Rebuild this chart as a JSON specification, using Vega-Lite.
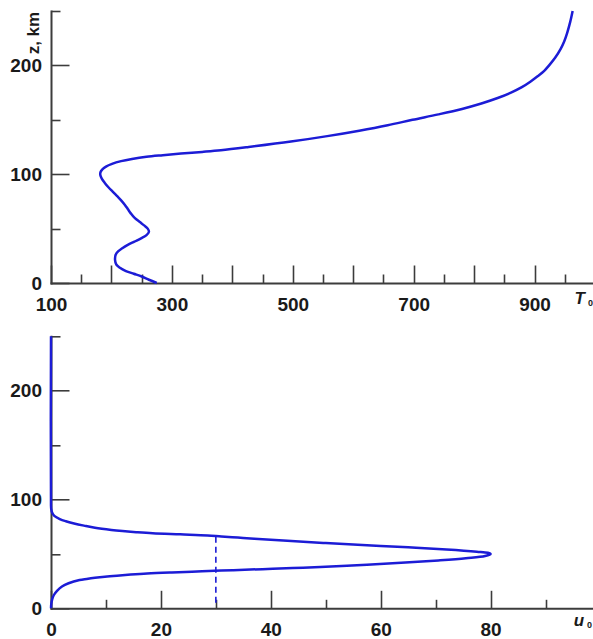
{
  "$schema": "https://vega.github.io/schema/vega-lite/v6.json",
  "padding": {"left": 9, "top": 6, "right": 0, "bottom": 0},
  "background": "white",
  "config": {
    "view": {"stroke": null},
    "font": "Liberation Sans",
    "axis": {
      "grid": false,
      "labelFont": "Liberation Sans",
      "labelFontWeight": "bold",
      "labelFontSize": 19,
      "labelColor": "#1a1a1a",
      "titleFont": "Liberation Sans",
      "titleFontWeight": "bold",
      "titleColor": "#1a1a1a",
      "domainColor": "#3c3c3c",
      "domainWidth": 2,
      "domainCap": "square",
      "tickColor": "#3c3c3c",
      "tickWidth": 1.6,
      "labelFlush": false,
      "labelOverlap": false
    }
  },
  "datasets": {
    "temp": [
      {"z": 0, "T": 275}, {"z": 3, "T": 262}, {"z": 6, "T": 250}, {"z": 8.5, "T": 237},
      {"z": 11, "T": 224}, {"z": 14, "T": 214}, {"z": 17, "T": 208}, {"z": 21, "T": 206},
      {"z": 26, "T": 207}, {"z": 29, "T": 211}, {"z": 32, "T": 218}, {"z": 35, "T": 227},
      {"z": 38, "T": 238}, {"z": 41, "T": 249}, {"z": 44, "T": 258}, {"z": 47, "T": 262},
      {"z": 50, "T": 260}, {"z": 53, "T": 254}, {"z": 56, "T": 247}, {"z": 60, "T": 238},
      {"z": 64, "T": 232}, {"z": 68, "T": 227}, {"z": 72, "T": 222}, {"z": 76, "T": 216},
      {"z": 80, "T": 209}, {"z": 84, "T": 202}, {"z": 88, "T": 195}, {"z": 92, "T": 189},
      {"z": 96, "T": 184}, {"z": 99.5, "T": 181.5}, {"z": 102, "T": 182}, {"z": 104.5, "T": 185},
      {"z": 107, "T": 191}, {"z": 109.5, "T": 201}, {"z": 112, "T": 216}, {"z": 114, "T": 234},
      {"z": 116, "T": 258}, {"z": 117.5, "T": 285}, {"z": 119, "T": 315}, {"z": 120.5, "T": 350},
      {"z": 122, "T": 381}, {"z": 125, "T": 427}, {"z": 130, "T": 497}, {"z": 135, "T": 557},
      {"z": 140, "T": 610}, {"z": 145, "T": 657}, {"z": 150, "T": 698}, {"z": 155, "T": 741},
      {"z": 160, "T": 780}, {"z": 165, "T": 812}, {"z": 170, "T": 839}, {"z": 175, "T": 861},
      {"z": 180, "T": 879}, {"z": 185, "T": 893}, {"z": 190, "T": 905}, {"z": 195, "T": 916},
      {"z": 200, "T": 924}, {"z": 207, "T": 934}, {"z": 215, "T": 943}, {"z": 222, "T": 949},
      {"z": 230, "T": 954}, {"z": 240, "T": 959}, {"z": 250, "T": 963}
    ],
    "wind": [
      {"z": 0, "u": 0}, {"z": 4, "u": 0.05}, {"z": 8, "u": 0.2}, {"z": 12, "u": 0.5},
      {"z": 16, "u": 1.1}, {"z": 20, "u": 2.0}, {"z": 23, "u": 3.2}, {"z": 26, "u": 5.2},
      {"z": 27, "u": 6.5}, {"z": 28, "u": 8}, {"z": 29, "u": 9.8}, {"z": 30, "u": 12},
      {"z": 31, "u": 14.5}, {"z": 32, "u": 17.5}, {"z": 33, "u": 22}, {"z": 34, "u": 27.5},
      {"z": 35, "u": 33}, {"z": 36, "u": 38.5}, {"z": 37, "u": 44}, {"z": 38, "u": 49},
      {"z": 40, "u": 57.5}, {"z": 42, "u": 64.5}, {"z": 44, "u": 70.5}, {"z": 46, "u": 75.5},
      {"z": 48, "u": 79}, {"z": 50, "u": 80}, {"z": 51, "u": 79.5}, {"z": 52, "u": 77.5},
      {"z": 54, "u": 72}, {"z": 56, "u": 65}, {"z": 58, "u": 57.5}, {"z": 60, "u": 50},
      {"z": 62, "u": 43}, {"z": 64, "u": 37}, {"z": 65, "u": 34}, {"z": 66, "u": 31},
      {"z": 67, "u": 28.5}, {"z": 68, "u": 23.5}, {"z": 69, "u": 18.5}, {"z": 70, "u": 15.5},
      {"z": 71, "u": 13}, {"z": 72, "u": 11}, {"z": 74, "u": 8}, {"z": 76, "u": 6},
      {"z": 78, "u": 4.2}, {"z": 80, "u": 2.7}, {"z": 82, "u": 1.6}, {"z": 85, "u": 0.6},
      {"z": 88, "u": 0.2}, {"z": 91, "u": 0.05}, {"z": 95, "u": 0}, {"z": 250, "u": 0}
    ],
    "dash": [{"u": 30, "z1": 5, "z2": 67}]
  },
  "vconcat": [
    {
      "width": 544,
      "height": 272,
      "data": {"name": "temp"},
      "layer": [
        {
          "mark": {"type": "line", "color": "#1c1cd6", "strokeWidth": 2.5, "interpolate": "catmull-rom"},
          "encoding": {
            "x": {
              "field": "T", "type": "quantitative",
              "scale": {"domain": [100, 1000], "nice": false, "zero": false},
              "axis": {
                "orient": "bottom",
                "values": [100, 200, 300, 400, 500, 600, 700, 800, 900],
                "tickSize": -18, "labelPadding": 30,
                "labelExpr": "datum.value % 200 == 100 ? datum.label : ''",
                "title": "T", "titleFontStyle": "italic", "titleFontSize": 17,
                "titleX": 523, "titleY": 20, "titleAlign": "left", "titleBaseline": "alphabetic"
              }
            },
            "y": {
              "field": "z", "type": "quantitative",
              "scale": {"domain": [0, 250], "nice": false},
              "axis": {
                "orient": "left",
                "values": [0, 100, 200],
                "tickSize": -18, "labelPadding": 27.5,
                "title": "z, km", "titleFontSize": 17, "titleAngle": 270,
                "titleX": -18, "titleY": 0.3, "titleAlign": "right", "titleBaseline": "middle"
              }
            },
            "order": {"field": "z", "type": "quantitative"}
          }
        },
        {
          "mark": {"type": "line", "strokeOpacity": 0},
          "encoding": {
            "x": {
              "field": "T", "type": "quantitative",
              "scale": {"domain": [100, 1000], "nice": false, "zero": false},
              "axis": {
                "orient": "bottom",
                "values": [150, 250, 350, 450, 550, 650, 750, 850, 950],
                "tickSize": -9, "labels": false, "domain": false,
                "title": "0", "titleFontSize": 9,
                "titleX": 536.5, "titleY": 22, "titleAlign": "left", "titleBaseline": "alphabetic"
              }
            },
            "y": {
              "field": "z", "type": "quantitative",
              "scale": {"domain": [0, 250], "nice": false},
              "axis": {
                "orient": "left",
                "values": [50, 150, 250],
                "tickSize": -9, "labels": false, "domain": false, "title": null
              }
            },
            "order": {"field": "z", "type": "quantitative"}
          }
        }
      ],
      "resolve": {"axis": {"x": "independent", "y": "independent"}}
    },
    {
      "width": 544,
      "height": 272,
      "layer": [
        {
          "data": {"name": "wind"},
          "mark": {"type": "line", "color": "#1c1cd6", "strokeWidth": 2.5, "interpolate": "catmull-rom"},
          "encoding": {
            "x": {
              "field": "u", "type": "quantitative",
              "scale": {"domain": [0, 99], "nice": false, "zero": false},
              "axis": {
                "orient": "bottom",
                "values": [0, 20, 40, 60, 80],
                "tickSize": -18, "labelPadding": 30,
                "title": "u", "titleFontStyle": "italic", "titleFontSize": 17,
                "titleX": 522.3, "titleY": 17.4, "titleAlign": "left", "titleBaseline": "alphabetic"
              }
            },
            "y": {
              "field": "z", "type": "quantitative",
              "scale": {"domain": [0, 250], "nice": false},
              "axis": {
                "orient": "left",
                "values": [0, 100, 200],
                "tickSize": -18, "labelPadding": 27.5,
                "title": null
              }
            },
            "order": {"field": "z", "type": "quantitative"}
          }
        },
        {
          "data": {"name": "dash"},
          "mark": {"type": "rule", "color": "#1c1cd6", "strokeWidth": 1.6, "strokeDash": [6, 4]},
          "encoding": {
            "x": {
              "field": "u", "type": "quantitative",
              "scale": {"domain": [0, 99], "nice": false, "zero": false},
              "axis": {
                "orient": "bottom",
                "values": [10, 30, 50, 70, 90],
                "tickSize": -9, "labels": false, "domain": false,
                "title": "0", "titleFontSize": 9,
                "titleX": 535.6, "titleY": 19, "titleAlign": "left", "titleBaseline": "alphabetic"
              }
            },
            "y": {
              "field": "z1", "type": "quantitative",
              "scale": {"domain": [0, 250], "nice": false},
              "axis": {
                "orient": "left",
                "values": [50, 150, 250],
                "tickSize": -9, "labels": false, "domain": false, "title": null
              }
            },
            "y2": {"field": "z2"}
          }
        }
      ],
      "resolve": {"axis": {"x": "independent", "y": "independent"}}
    }
  ],
  "spacing": 53.3,
  "bounds": "flush"
}
